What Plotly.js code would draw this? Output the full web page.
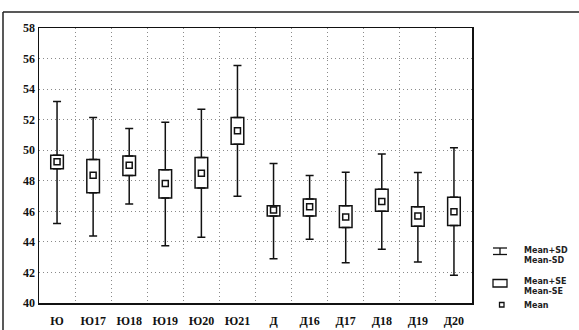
<!DOCTYPE html>
<html>
<head>
<meta charset="utf-8">
<script src="https://cdn.plot.ly/plotly-3.0.1.min.js"></script>
<style>html,body{margin:0;padding:0;background:#fff}#chart{width:579px;height:330px}</style>
</head>
<body>
<div id="chart"></div>
<script>
const categories = ["Ю","Ю17","Ю18","Ю19","Ю20","Ю21","Д","Д16","Д17","Д18","Д19","Д20"];
const meanVals = [49.24,48.37,49.02,47.82,48.50,51.28,46.08,46.30,45.63,46.65,45.69,45.98];
const seHigh   = [49.67,49.39,49.63,48.72,49.52,52.15,46.37,46.80,46.37,47.45,46.30,46.93];
const seLow    = [48.78,47.22,48.35,46.87,47.52,50.39,45.69,45.69,44.95,46.00,45.02,45.08];
const sdHigh   = [53.19,52.15,51.43,51.83,52.69,55.54,49.13,48.35,48.56,49.76,48.54,50.17];
const sdLow    = [45.21,44.39,46.48,43.74,44.30,46.98,42.89,44.17,42.63,43.52,42.69,41.82];
const yTicks   = [40,42,44,46,48,50,52,54,56,58];

const W = 579, H = 330;
const M = {l: 39, r: 107, t: 28, b: 27};
const pw = W - M.l - M.r, ph = H - M.t - M.b;
const px = x => (x - M.l) / pw;
const py = y => (H - M.b - y) / ph;

const upper = {
  type: 'scatter', mode: 'markers', x: categories, y: seHigh,
  marker: {size: 1, opacity: 0},
  error_y: {type: 'data', symmetric: false,
    array: sdHigh.map((v, i) => v - seHigh[i]), arrayminus: seHigh.map(() => 0),
    color: '#111', thickness: 1.5, width: 4},
  showlegend: false, hoverinfo: 'skip'
};
const lower = {
  type: 'scatter', mode: 'markers', x: categories, y: seLow,
  marker: {size: 1, opacity: 0},
  error_y: {type: 'data', symmetric: false,
    array: seLow.map(() => 0), arrayminus: seLow.map((v, i) => v - sdLow[i]),
    color: '#111', thickness: 1.5, width: 4},
  showlegend: false, hoverinfo: 'skip'
};
const boxes = {
  type: 'bar', x: categories, base: seLow,
  y: seHigh.map((v, i) => v - seLow[i]),
  width: 0.35,
  marker: {color: '#fff', line: {color: '#111', width: 1.5}},
  showlegend: false, hoverinfo: 'skip'
};
const means = {
  type: 'scatter', mode: 'markers', x: categories, y: meanVals,
  marker: {symbol: 'square-open', size: 6, color: '#111', line: {width: 1.5, color: '#111'}},
  showlegend: false, hoverinfo: 'skip'
};

const legFont = {family: 'DejaVu Sans, sans-serif', size: 8, color: '#222', weight: 'bold'};
const annotations = [
  ['Mean+SD', 250], ['Mean-SD', 260], ['Mean+SE', 281], ['Mean-SE', 291], ['Mean', 305]
].map(([t, y]) => ({
  text: t, xref: 'paper', yref: 'paper', x: px(522), y: py(y),
  xanchor: 'left', yanchor: 'middle', showarrow: false, font: legFont
}));

const ln = {color: '#111', width: 1.3};
const shapes = [
  {type: 'line', xref: 'paper', yref: 'paper', x0: px(3), x1: px(600), y0: py(12), y1: py(12), line: {color: '#222', width: 1.5}},
  {type: 'line', xref: 'paper', yref: 'paper', x0: px(3), x1: px(3), y0: py(12), y1: py(340), line: {color: '#222', width: 1.5}},
  {type: 'line', xref: 'paper', yref: 'paper', x0: px(493), x1: px(507), y0: py(248), y1: py(248), line: ln},
  {type: 'line', xref: 'paper', yref: 'paper', x0: px(493), x1: px(507), y0: py(254.5), y1: py(254.5), line: ln},
  {type: 'line', xref: 'paper', yref: 'paper', x0: px(500), x1: px(500), y0: py(248), y1: py(254.5), line: ln},
  {type: 'rect', xref: 'paper', yref: 'paper', x0: px(493), x1: px(507), y0: py(279.5), y1: py(287), line: ln, fillcolor: '#fff'},
  {type: 'rect', xref: 'paper', yref: 'paper', x0: px(499.5), x1: px(504), y0: py(302.5), y1: py(307), line: {color: '#111', width: 1.3}}
];

const gridStyle = {showgrid: true, gridcolor: '#8a8a8a', griddash: '1px,3px', gridwidth: 1};
const tickFont = {family: 'Liberation Serif, Times New Roman, serif', size: 12, color: '#111', weight: 'bold'};

const layout = {
  width: W, height: H,
  margin: M,
  paper_bgcolor: '#fff', plot_bgcolor: '#fff',
  showlegend: false,
  barmode: 'overlay',
  xaxis: Object.assign({
    type: 'category', categoryorder: 'array', categoryarray: categories,
    range: [-0.5, 11.5], tickson: 'boundaries', ticks: '',
    showline: true, mirror: true, linecolor: '#111', linewidth: 1.5,
    ticklabelstandoff: 6, tickfont: tickFont
  }, gridStyle),
  yaxis: Object.assign({
    range: [40, 58], tickvals: yTicks, ticktext: yTicks.map(String),
    ticks: '', zeroline: false,
    showline: true, mirror: true, linecolor: '#111', linewidth: 1.5,
    tickfont: tickFont
  }, gridStyle),
  annotations: annotations,
  shapes: shapes
};

Plotly.newPlot('chart', [boxes, upper, lower, means], layout, {staticPlot: true, displayModeBar: false});
</script>
</body>
</html>
